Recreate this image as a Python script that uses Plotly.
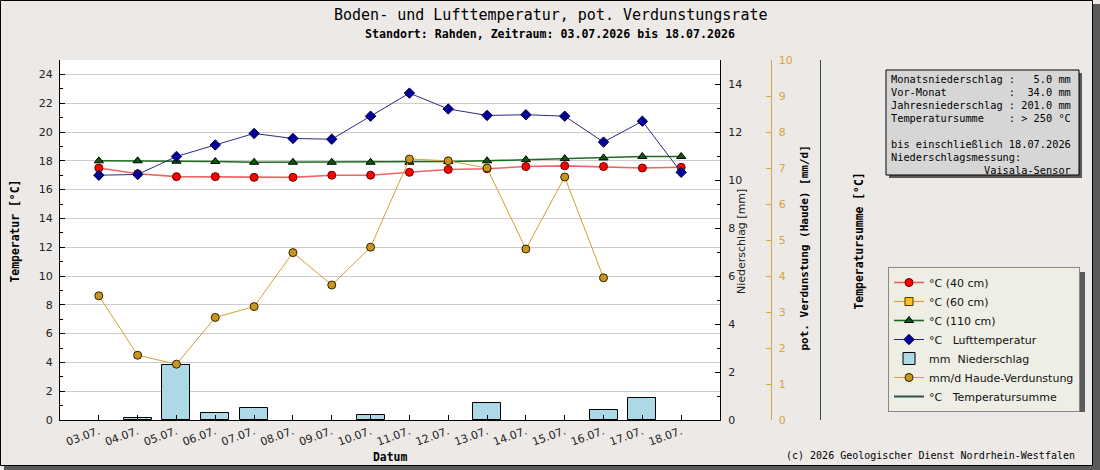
import plotly.graph_objects as go

# ---------------- data ----------------
dates = ["03.07.", "04.07.", "05.07.", "06.07.", "07.07.", "08.07.", "09.07.", "10.07.",
         "11.07.", "12.07.", "13.07.", "14.07.", "15.07.", "16.07.", "17.07.", "18.07."]
temp_40cm = [17.5, 17.1, 16.9, 16.9, 16.85, 16.85, 17.0, 17.0,
             17.2, 17.4, 17.45, 17.6, 17.65, 17.6, 17.5, 17.55]
temp_60cm = [None, None, None, None, None, None, None, None,
             None, None, None, None, None, None, None, None]
temp_110cm = [18.0, 18.0, 17.97, 17.95, 17.9, 17.9, 17.9, 17.9,
              17.9, 17.95, 18.0, 18.08, 18.15, 18.2, 18.3, 18.3]
temp_luft = [17.0, 17.05, 18.3, 19.1, 19.9, 19.55, 19.5, 21.1,
             22.7, 21.6, 21.15, 21.2, 21.1, 19.3, 20.75, 17.2]
niederschlag = [0, 0.1, 2.3, 0.3, 0.5, 0, 0, 0.2,
                0, 0, 0.7, 0, 0, 0.4, 0.9, 0]
haude = [3.45, 1.8, 1.55, 2.85, 3.15, 4.65, 3.75, 4.8,
         7.25, 7.2, 7.0, 4.75, 6.75, 3.95, None, None]
temperatursumme = [None, None, None, None, None, None, None, None,
                   None, None, None, None, None, None, None, None]

info_lines = [
    "Monatsniederschlag :   5.0 mm",
    "Vor-Monat          :  34.0 mm",
    "Jahresniederschlag : 201.0 mm",
    "Temperatursumme    : > 250 °C",
    "",
    "bis einschließlich 18.07.2026",
    "Niederschlagsmessung:",
    "               Vaisala-Sensor",
]

# ---------------- geometry helpers ----------------
W, H = 1100, 470
ML, MR, MT, MB = 60, 60, 60, 50
PW = W - ML - MR
PH = H - MT - MB


def px(x):
    return (x - ML) / PW


def py(y):
    return (H - MB - y) / PH


MONO = "DejaVu Sans Mono"
SANS = "DejaVu Sans"
BG = "#ECE9E7"
ORANGE_AX = "#D9A441"

fig = go.Figure()

fig.add_trace(go.Scatter(
    x=dates, y=temp_40cm, name="°C (40 cm)", mode="lines+markers",
    line=dict(color="rgba(232,50,50,0.75)", width=1.6),
    marker=dict(symbol="circle", size=8, color="#FF0000", line=dict(color="#660000", width=1)),
    yaxis="y"))
fig.add_trace(go.Scatter(
    x=dates, y=temp_60cm, name="°C (60 cm)", mode="lines+markers",
    line=dict(color="#E8A317", width=1.2),
    marker=dict(symbol="square", size=8, color="#FFC020", line=dict(color="#553300", width=1)),
    yaxis="y"))
fig.add_trace(go.Scatter(
    x=dates, y=temp_110cm, name="°C (110 cm)", mode="lines+markers",
    line=dict(color="#1E6B1E", width=1.6),
    marker=dict(symbol="triangle-up", size=8, color="#0A5A0A", line=dict(color="#000000", width=1)),
    yaxis="y"))
fig.add_trace(go.Scatter(
    x=dates, y=temp_luft, name="°C\u00a0\u00a0\u00a0Lufttemperatur", mode="lines+markers",
    line=dict(color="#2A2A80", width=1),
    marker=dict(symbol="diamond", size=8, color="#000099", line=dict(color="#000044", width=1)),
    yaxis="y"))
fig.add_trace(go.Bar(
    x=dates, y=[v if v > 0 else None for v in niederschlag],
    name="mm\u00a0\u00a0Niederschlag", width=0.72,
    marker=dict(color="#ADD8E6", line=dict(color="#000000", width=1)),
    yaxis="y2"))
fig.add_trace(go.Scatter(
    x=dates, y=haude, name="mm/d Haude-Verdunstung", mode="lines+markers",
    line=dict(color="#D4A032", width=1),
    marker=dict(symbol="circle", size=8, color="#C8961E", line=dict(color="#332200", width=1)),
    yaxis="y3"))
fig.add_trace(go.Scatter(
    x=dates, y=temperatursumme, name="°C\u00a0\u00a0\u00a0Temperatursumme", mode="lines",
    line=dict(color="#2F4F4F", width=2),
    yaxis="y4"))

tickfont = dict(family=SANS, size=11, color="#222222")

fig.update_layout(
    width=W, height=H, autosize=False,
    margin=dict(l=ML, r=MR, t=MT, b=MB, pad=0),
    paper_bgcolor=BG, plot_bgcolor="#FFFFFF",
    showlegend=True,
    bargap=0,
    xaxis=dict(
        domain=[0, 660 / PW], type="category", range=[-1, 16],
        tickangle=-20, ticks="inside", ticklen=5, tickcolor="#000000",
        showline=True, linecolor="#000000", linewidth=1, showgrid=False, zeroline=False,
        tickfont=dict(family=SANS, size=11, color="#222222"),
        fixedrange=True),
    yaxis=dict(
        range=[0, 25], tick0=0, dtick=2, ticks="inside", ticklen=5, tickcolor="#000000",
        minor=dict(dtick=1, ticks="inside", ticklen=3, tickcolor="#000000", showgrid=False),
        showgrid=True, gridcolor="#CCCCCC", gridwidth=1, zeroline=False,
        showline=True, linecolor="#000000", linewidth=1,
        tickfont=tickfont, ticklabelstandoff=4),
    yaxis2=dict(
        overlaying="y", side="right", anchor="x",
        range=[0, 15], tick0=0, dtick=2, ticks="inside", ticklen=5, tickcolor="#000000",
        minor=dict(dtick=1, ticks="inside", ticklen=3, tickcolor="#000000", showgrid=False),
        showgrid=False, zeroline=False,
        showline=True, linecolor="#000000", linewidth=1,
        tickfont=tickfont, ticklabelstandoff=5),
    yaxis3=dict(
        overlaying="y", side="right", anchor="free", position=px(770.5),
        range=[0, 10], tick0=0, dtick=1, ticks="inside", ticklen=5, tickcolor=ORANGE_AX,
        showgrid=False, zeroline=False,
        showline=True, linecolor=ORANGE_AX, linewidth=1,
        tickfont=dict(family=SANS, size=11, color=ORANGE_AX), ticklabelstandoff=5),
    yaxis4=dict(
        overlaying="y", side="right", anchor="free", position=px(820),
        range=[0, 1], tickvals=[0], ticks="inside", ticklen=4, tickcolor="#2F4F4F",
        showticklabels=False, showgrid=False, zeroline=False,
        showline=True, linecolor="#2F4F4F", linewidth=1),
    legend=dict(
        x=px(888), y=py(267), xanchor="left", yanchor="top",
        bgcolor="#EEEEE4", bordercolor="#888888", borderwidth=1,
        font=dict(family=SANS, size=11, color="#111111"),
        itemwidth=30, traceorder="normal"),
)


def ann(text, x, y, size, family=MONO, angle=0, xanchor="center", color="#000000"):
    fig.add_annotation(
        text=text, x=px(x), y=py(y), xref="paper", yref="paper",
        showarrow=False, textangle=angle, xanchor=xanchor, yanchor="middle",
        font=dict(family=family, size=size, color=color))


ann("Boden- und Lufttemperatur, pot. Verdunstungsrate", 550, 14.5, 15)
ann("<b>Standort: Rahden, Zeitraum: 03.07.2026 bis 18.07.2026</b>", 550, 34, 11.6)
ann("<b>Temperatur [°C]</b>", 14, 231.5, 11.4, angle=-90)
ann("Niederschlag [mm]", 741.5, 241.5, 11, family=SANS, angle=-90, color="#222222")
ann("<b>pot. Verdunstung (Haude) [mm/d]</b>", 804, 248.5, 11, angle=-90)
ann("<b>Temperatursumme [°C]</b>", 858, 241.5, 11.4, angle=-90)
ann("<b>Datum</b>", 390, 457, 11.4)
ann("(c) 2026 Geologischer Dienst Nordrhein-Westfalen", 1077, 455, 10, xanchor="right")

for i, line in enumerate(info_lines):
    if line:
        ann(line.replace(" ", "\u00a0"), 889, 79 + 13 * i, 10.3, xanchor="left")


def rect(x0, y0, x1, y1, fill=None, line=None, layer="above"):
    fig.add_shape(
        type="rect", xref="paper", yref="paper",
        x0=px(x0), x1=px(x1), y0=py(y1), y1=py(y0), layer=layer,
        fillcolor=fill if fill else "rgba(0,0,0,0)",
        line=dict(color=line if line else "rgba(0,0,0,0)", width=1 if line else 0))


# outer frame with shadow
rect(1093, 4, 1100, 470, fill="#5A5A5A")
rect(4, 466, 1100, 470, fill="#5A5A5A")
rect(0.5, 0.5, 1092.5, 465.5, line="#000000")
# info box
rect(889, 73, 1082, 178, fill="#5A5A5A")
rect(886, 70, 1079, 175, fill="#D6D6D6", line="#000000")
# legend shadow
rect(893, 272, 1085, 412, fill="#5A5A5A")

fig.write_html("out.html")
